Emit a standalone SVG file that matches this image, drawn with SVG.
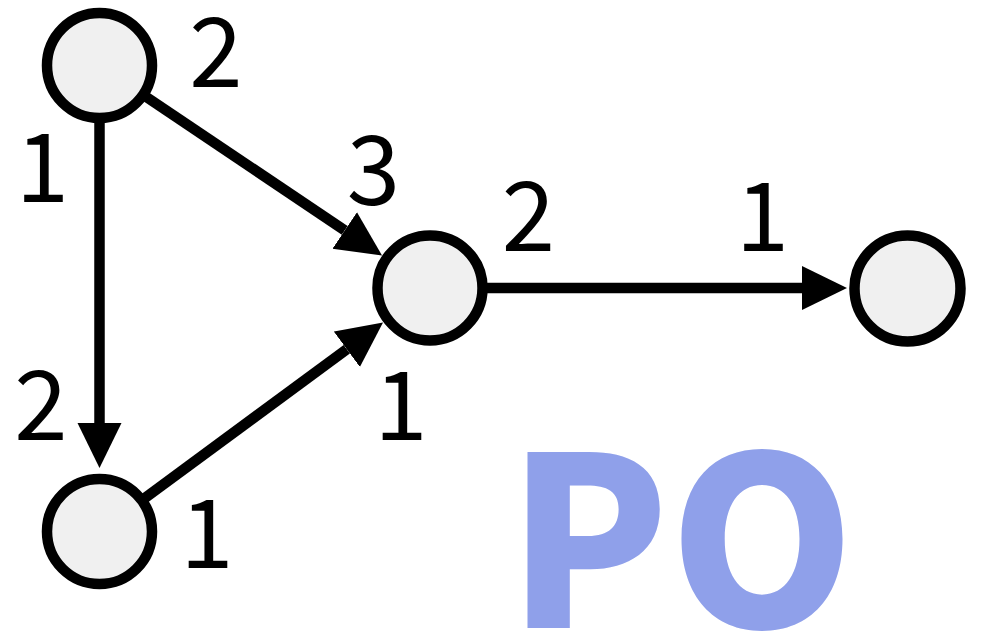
<svg xmlns="http://www.w3.org/2000/svg" width="985" height="635" viewBox="0 0 985 635">
<style>
.node{fill:#f0f0f0;stroke:#000;stroke-width:10.5}
.edge{stroke:#000;stroke-width:10.5;fill:none}
.lbl{font-family:"Noto Sans CJK JP","Noto Sans",sans-serif;font-size:96px;fill:#000;text-anchor:middle}
.title{font-family:"Noto Sans CJK JP","Noto Sans",sans-serif;font-weight:900;font-size:236px;fill:#8fa0ea;text-anchor:middle}
</style>
<defs>
<marker id="arr" markerUnits="userSpaceOnUse" markerWidth="46" markerHeight="46" refX="0" refY="22" orient="auto" viewBox="0 0 46 46">
<path d="M0,0 L45,22 L0,44 z" fill="#000"/>
</marker>
</defs>
<rect width="985" height="635" fill="#fff"/>
<g id="connectors">
<line class="edge" x1="99.5" y1="65.5" x2="99.5" y2="423" marker-end="url(#arr)"/>
<line class="edge" x1="99.5" y1="65.5" x2="344.7" y2="230.4" marker-end="url(#arr)"/>
<line class="edge" x1="99.5" y1="531.5" x2="346.8" y2="349.2" marker-end="url(#arr)"/>
<line class="edge" x1="430" y1="288" x2="802" y2="288" marker-end="url(#arr)"/>
</g>
<g id="node-a"><circle class="node" cx="99.5" cy="65.5" r="52.5"/></g>
<g id="node-b"><circle class="node" cx="99.5" cy="531.5" r="52.5"/></g>
<g id="node-c"><circle class="node" cx="430" cy="288" r="52.5"/></g>
<g id="node-d"><circle class="node" cx="907.5" cy="288.5" r="53"/></g>
<g id="labels">
<text class="lbl" x="216" y="87">2</text>
<text class="lbl" x="42.5" y="202">1</text>
<text class="lbl" x="41" y="440">2</text>
<text class="lbl" x="207" y="568">1</text>
<text class="lbl" x="373.5" y="205">3</text>
<text class="lbl" x="401" y="440">1</text>
<text class="lbl" x="528.5" y="251">2</text>
<text class="lbl" x="762.5" y="251">1</text>
</g>
<text class="title" x="681" y="628">PO</text>
</svg>
